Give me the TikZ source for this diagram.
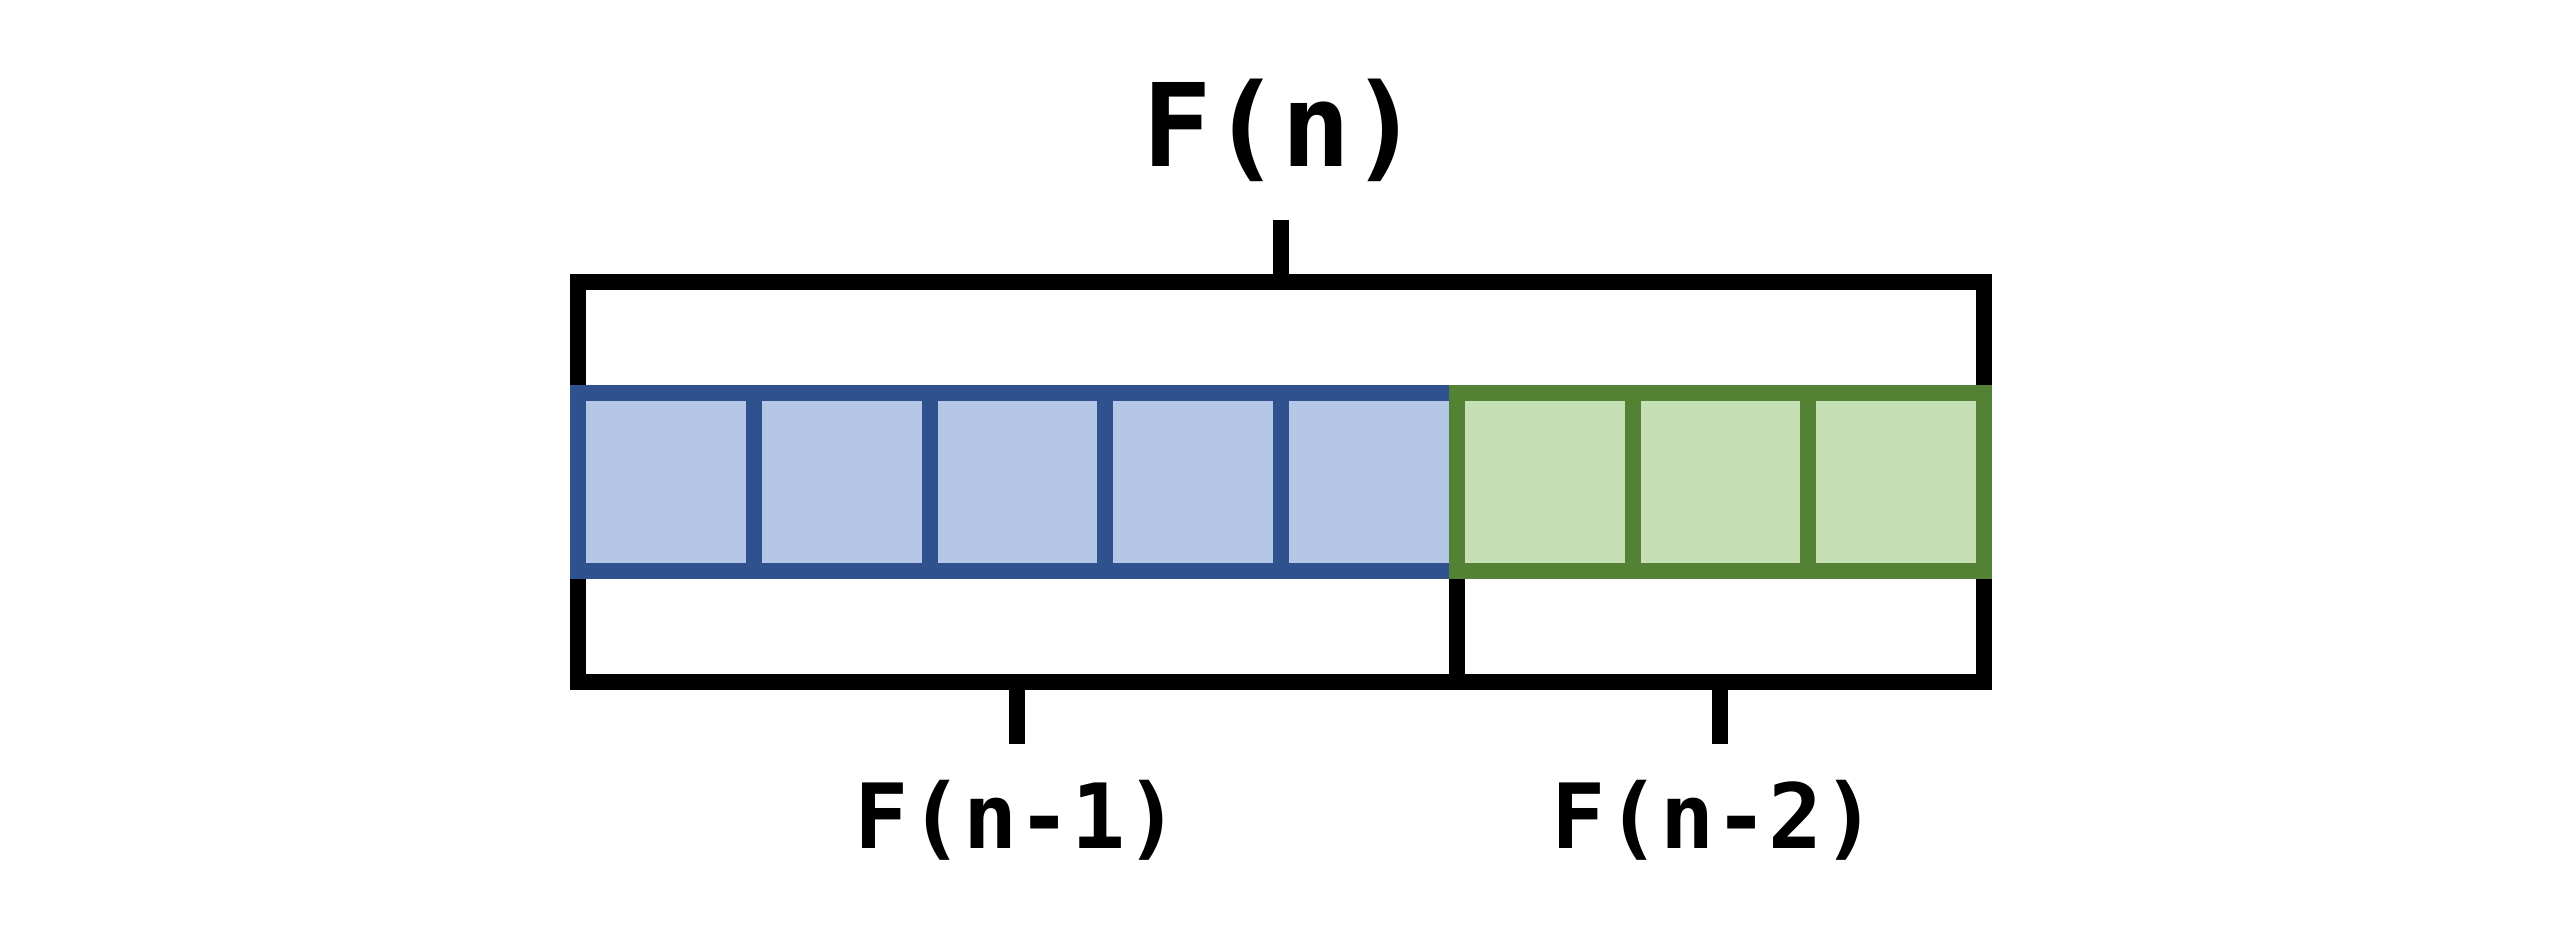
\documentclass[tikz,border=0pt]{standalone}
\usepackage{fontspec}
\setmonofont{DejaVu Sans Mono}
\usetikzlibrary{calc,backgrounds}
\definecolor{blueline}{HTML}{2F528F}
\definecolor{bluefill}{HTML}{B4C7E7}
\definecolor{greenline}{HTML}{548235}
\definecolor{greenfill}{HTML}{C5E0B4}
\newcommand{\Fib}[1]{F(#1)}

\begin{document}
\begin{tikzpicture}[x=1cm, y=1cm]

\tikzset{
  cella/.style={
    draw=blueline,
    fill=bluefill,
    line width=1.6mm,
    minimum width=17.575mm,
    minimum height=17.8mm,
    inner sep=0pt,
    outer sep=0pt
  },
  cellb/.style={
    cella,
    draw=greenline,
    fill=greenfill
  },
  bracket/.style={
    draw=black,
    line width=1.6mm
  },
  lbl/.style={
    anchor=base,
    inner sep=0pt,
    font=\ttfamily\bfseries\fontsize{25.6}{30}\selectfont
  }
}

\useasboundingbox (0,0) rectangle (25.6,9.32);

% cells: five blue, then three green laid over the seam
\foreach \i in {1,...,5} {
  \node[cella] (c\i) at ({5.78+(\i-0.5)*1.7575},4.50) {};
}
\foreach \i in {6,7,8} {
  \node[cellb] (c\i) at ({5.78+(\i-0.5)*1.7575},4.50) {};
}

\coordinate (topbar) at (0,6.50);
\coordinate (botbar) at (0,2.50);

% brackets sit behind the cells
\begin{scope}[on background layer]
\draw[bracket] (c1.north west) |- (topbar -| c8.north east) -- (c8.north east);
\draw[bracket] (c1.south west) |- (botbar -| c8.south east) -- (c8.south east);
\draw[bracket] (c6.south west) -- (c6.south west |- botbar);
\end{scope}

\node[lbl, font=\ttfamily\bfseries\fontsize{32.8}{38}\selectfont]
  (fn) at (c4.north east |- 0,7.65) {\Fib{n}};
\node[lbl] (fn1) at (c3.south |- 0,0.84) {\Fib{n-1}};
\node[lbl] (fn2) at ([xshift=-0.06cm]c7.south |- 0,0.84) {\Fib{n-2}};

\draw[bracket] (c4.north east |- topbar) -- ++(0,0.62);
\draw[bracket] (c3.south |- botbar) -- ++(0,-0.62);
\draw[bracket] (c7.south |- botbar) -- ++(0,-0.62);

\end{tikzpicture}
\end{document}
